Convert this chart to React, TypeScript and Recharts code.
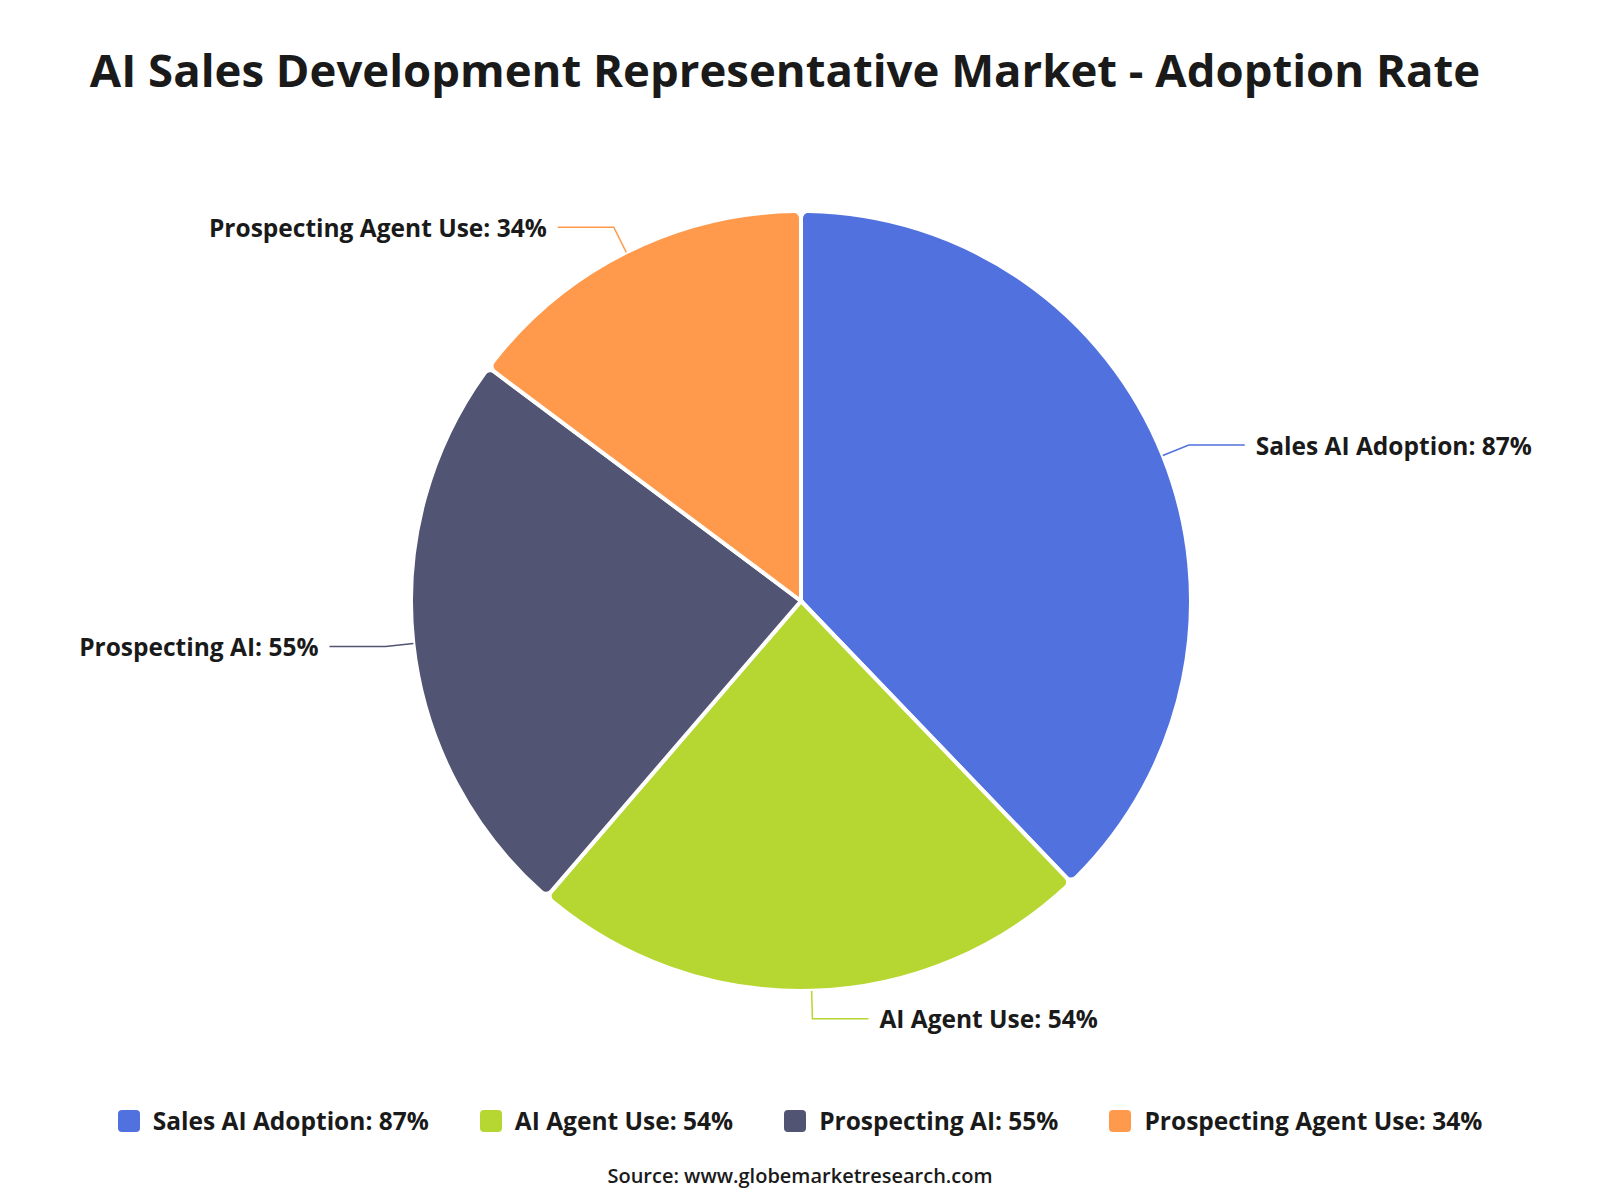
import { Legend, Pie, PieChart } from "recharts"

const categories = [
  "Sales AI Adoption",
  "AI Agent Use",
  "Prospecting AI",
  "Prospecting Agent Use",
]
const adoption = [87, 54, 55, 34]
const colors = ["#5071de", "#b6d732", "#515472", "#ff9a4d"]

const data = categories.map((name, i) => ({
  name,
  value: adoption[i],
  fill: colors[i],
  label: `${name}: ${adoption[i]}%`,
}))

const FONT = "'Open Sans', 'Noto Sans', sans-serif"
const RADIAN = Math.PI / 180

function renderLabel(props: any) {
  const { cx, cy, midAngle, outerRadius, payload, fill } = props
  const cos = Math.cos(-midAngle * RADIAN)
  const sin = Math.sin(-midAngle * RADIAN)
  const sx = cx + outerRadius * cos
  const sy = cy + outerRadius * sin
  const mx = cx + (outerRadius + 28) * cos
  const my = cy + (outerRadius + 28) * sin
  const dir = cos >= 0 ? 1 : -1
  const ex = mx + dir * 56
  return (
    <g>
      <polyline
        points={`${sx},${sy} ${mx},${my} ${ex},${my}`}
        fill="none"
        stroke={fill}
        strokeWidth={1.5}
      />
      <text
        x={ex + dir * 11}
        y={my}
        textAnchor={dir > 0 ? "start" : "end"}
        dominantBaseline="central"
        fill="#1a1a1a"
        fontSize={24.5}
        fontWeight={700}
        fontFamily={FONT}
      >
        {payload.label}
      </text>
    </g>
  )
}

function renderLegend() {
  return (
    <div
      style={{
        display: "flex",
        justifyContent: "center",
        gap: 51,
        fontFamily: FONT,
        fontWeight: 700,
        fontSize: 24.5,
        color: "#1a1a1a",
      }}
    >
      {data.map((d) => (
        <div key={d.name} style={{ display: "flex", alignItems: "center" }}>
          <span
            style={{
              display: "inline-block",
              width: 22,
              height: 22,
              borderRadius: 4,
              background: d.fill,
              marginRight: 13,
            }}
          />
          {d.label}
        </div>
      ))}
    </div>
  )
}

export default function App() {
  return (
    <div
      style={{
        position: "absolute",
        left: 0,
        top: 0,
        width: 1600,
        height: 1200,
        background: "#fff",
      }}
    >
      <div
        style={{
          position: "absolute",
          top: 38,
          left: -15,
          width: 1600,
          textAlign: "center",
          fontFamily: FONT,
          fontWeight: 700,
          fontSize: 45.5,
          color: "#1a1a1a",
        }}
      >
        AI Sales Development Representative Market - Adoption Rate
      </div>
      <PieChart width={1600} height={1200}>
        <Pie
          data={data}
          dataKey="value"
          nameKey="name"
          cx={796}
          cy={596}
          outerRadius={390}
          startAngle={90}
          endAngle={-270}
          stroke="#ffffff"
          strokeWidth={4}
          cornerRadius={7}
          label={renderLabel}
          labelLine={false}
          isAnimationActive={false}
        />
        <Legend
          content={renderLegend}
          wrapperStyle={{ top: 1104, left: 0, width: 1600 }}
        />
      </PieChart>
      <div
        style={{
          position: "absolute",
          top: 1162,
          width: 1600,
          textAlign: "center",
          fontFamily: FONT,
          fontWeight: 600,
          fontSize: 20,
          color: "#1a1a1a",
        }}
      >
        Source: www.globemarketresearch.com
      </div>
    </div>
  )
}
